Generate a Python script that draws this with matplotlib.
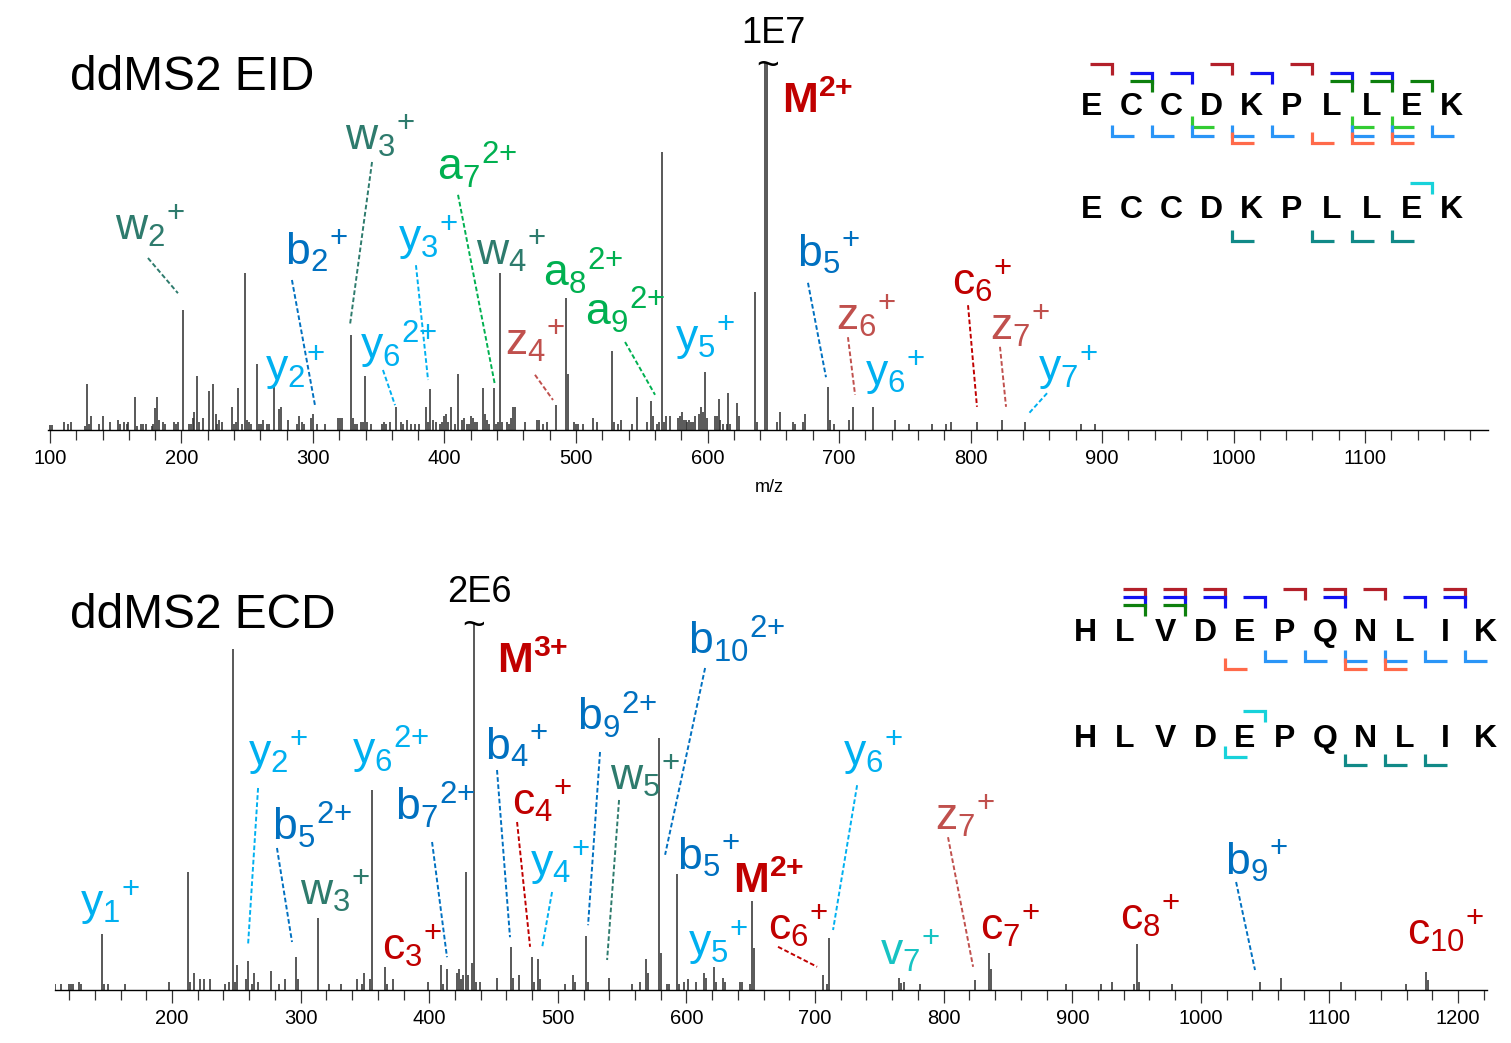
import numpy as np
import matplotlib
matplotlib.use('Agg')
import matplotlib.pyplot as plt

plt.rcParams['font.family'] = 'Liberation Sans'
plt.rcParams['mathtext.fontset'] = 'custom'
plt.rcParams['mathtext.rm'] = 'Liberation Sans'
plt.rcParams['mathtext.it'] = 'Liberation Sans:italic'
plt.rcParams['mathtext.bf'] = 'Liberation Sans:bold'

# ---------------- data ----------------
# EID spectrum (m/z, relative intensity)
eid_mz = [100.0, 101.8, 110.6, 113.9, 115.7, 126.4, 127.9, 129.4, 130.9, 137.5, 140.6, 145.6,
          151.5, 153.2, 156.5, 158.3, 159.6, 164.4, 165.9, 169.0, 171.0, 173.0, 177.3, 178.6,
          179.8, 181.4, 182.9, 186.2, 187.7, 194.3, 195.8, 197.3, 200.9, 205.4, 207.0, 208.5,
          209.7, 211.5, 213.0, 216.3, 221.1, 224.2, 226.0, 227.2, 228.7, 230.5, 238.4, 240.2,
          241.7, 243.2, 246.2, 248.0, 249.6, 251.3, 252.9, 257.4, 258.9, 260.5, 262.2, 265.3,
          266.8, 270.1, 274.4, 275.9, 281.0, 287.6, 289.1, 291.9, 293.4, 298.5, 300.2, 302.8,
          309.4, 319.0, 320.5, 322.1, 328.7, 330.2, 331.7, 333.2, 336.3, 337.8, 339.5, 341.1,
          344.1, 352.2, 353.8, 355.3, 358.3, 363.1, 366.9, 368.7, 371.3, 374.3, 377.6, 380.6,
          385.7, 387.2, 388.7, 391.5, 393.5, 396.6, 398.1, 399.6, 401.1, 402.9, 404.7, 408.0,
          410.5, 413.5, 415.1, 416.9, 418.6, 419.9, 421.4, 423.2, 424.5, 429.5, 431.0, 432.6,
          434.1, 437.4, 438.9, 440.5, 442.0, 443.5, 447.3, 448.8, 450.3, 451.9, 453.6, 461.2,
          470.1, 472.1, 475.1, 478.2, 484.8, 492.6, 494.1, 498.5, 500.0, 501.7, 505.5, 513.2,
          516.0, 527.4, 528.9, 531.9, 534.5, 542.6, 546.6, 554.2, 557.3, 558.8, 561.8, 563.3,
          565.1, 566.7, 568.2, 571.5, 577.8, 579.1, 580.6, 582.1, 583.7, 584.7, 586.2, 587.7,
          589.2, 590.7, 593.8, 595.3, 596.8, 598.3, 599.8, 605.7, 607.0, 608.5, 609.5, 612.0,
          614.6, 615.6, 617.1, 622.2, 623.7, 636.1, 637.9, 643.9, 645.5, 652.6, 655.1, 664.8,
          666.3, 672.9, 674.4, 691.4, 693.2, 696.0, 707.4, 710.4, 726.1, 742.3, 752.9, 770.4,
          781.4, 784.9, 804.9, 824.2, 841.7, 884.0, 895.0]
eid_int = [1.2, 1.2, 2.0, 1.6, 2.0, 1.0, 11.4, 1.4, 3.6, 1.6, 3.6, 2.0,
           2.5, 1.6, 2.0, 1.6, 2.0, 8.2, 1.0, 1.4, 1.4, 1.4, 1.0, 1.4,
           5.6, 8.2, 2.5, 2.0, 1.6, 2.0, 1.6, 2.0, 29.9, 1.4, 1.4, 3.1,
           4.5, 13.4, 2.0, 3.1, 9.8, 11.4, 4.1, 1.6, 2.5, 2.0, 5.8, 1.4,
           2.0, 10.4, 1.4, 39.3, 2.5, 2.0, 1.4, 16.4, 1.4, 1.6, 2.5, 1.4,
           1.4, 10.8, 5.2, 5.8, 2.5, 1.4, 3.6, 2.0, 1.6, 3.1, 4.1, 1.4,
           1.4, 3.1, 3.1, 3.1, 23.8, 3.1, 1.4, 1.4, 2.0, 2.0, 13.4, 2.0,
           1.4, 1.6, 2.0, 1.6, 2.0, 5.8, 2.0, 1.4, 2.5, 1.4, 1.4, 1.4,
           5.8, 2.0, 10.2, 2.5, 2.0, 1.6, 2.0, 3.6, 4.1, 2.0, 5.8, 1.4,
           13.9, 2.5, 3.1, 1.4, 1.6, 3.6, 3.1, 2.0, 2.0, 10.4, 4.1, 2.5,
           1.6, 10.4, 1.4, 2.0, 39.3, 2.0, 2.0, 1.6, 3.1, 5.8, 5.8, 2.0,
           2.5, 2.5, 1.4, 2.0, 6.2, 33.1, 13.9, 2.0, 1.6, 1.4, 1.4, 3.1,
           2.0, 19.8, 2.0, 1.4, 2.5, 1.4, 8.3, 2.0, 7.2, 3.6, 1.4, 2.0,
           69.5, 2.0, 3.6, 3.6, 3.1, 3.6, 4.5, 2.5, 2.5, 2.0, 2.5, 2.0,
           2.0, 3.6, 4.1, 5.8, 4.5, 14.5, 3.1, 3.6, 3.6, 7.7, 2.5, 1.4,
           1.4, 9.3, 1.6, 6.7, 3.6, 34.6, 2.0, 92.0, 92.0, 2.0, 4.5, 2.0,
           1.4, 2.0, 4.1, 10.8, 2.5, 1.6, 2.5, 5.8, 5.8, 2.5, 1.6, 1.6,
           1.6, 2.0, 2.0, 2.5, 2.0, 1.6, 1.6]

# ECD spectrum (m/z, relative intensity)
ecd_mz = [108.8, 113.5, 120.1, 121.7, 123.2, 127.9, 129.5, 145.8, 147.4, 150.4, 163.7, 197.4,
          212.2, 213.8, 216.9, 221.8, 224.9, 229.8, 241.2, 244.3, 247.7, 249.2, 250.8, 257.3,
          258.9, 262.2, 263.8, 266.9, 276.7, 283.2, 288.1, 296.2, 297.7, 313.8, 321.8, 331.4,
          344.1, 347.5, 349.1, 354.0, 355.8, 365.4, 367.0, 371.9, 399.3, 408.9, 410.5, 413.6,
          421.9, 423.4, 425.0, 426.5, 428.4, 429.9, 433.0, 434.6, 436.2, 439.5, 452.5, 463.8,
          465.4, 470.0, 479.9, 481.5, 484.6, 486.2, 505.8, 512.1, 513.6, 521.9, 523.5, 539.8,
          557.5, 563.9, 568.8, 570.4, 578.4, 580.0, 584.7, 586.2, 592.9, 594.5, 597.9, 601.0,
          607.5, 613.7, 615.2, 621.7, 623.3, 628.2, 629.8, 641.4, 643.0, 649.5, 650.8, 652.6,
          706.0, 709.1, 710.9, 765.5, 766.9, 769.0, 781.9, 824.0, 835.2, 836.9, 895.1, 922.6,
          930.7, 948.4, 950.2, 951.6, 977.7, 1045.6, 1062.0, 1108.7, 1159.2, 1174.9, 1176.7]
ecd_int = [1.4, 1.4, 1.4, 1.4, 1.4, 2.0, 1.4, 13.9, 1.4, 1.4, 1.4, 2.0,
           29.5, 2.0, 4.2, 2.7, 2.7, 2.7, 1.4, 2.0, 85.2, 2.0, 6.2, 2.7,
           7.2, 1.4, 4.2, 2.0, 4.8, 1.4, 2.7, 8.2, 2.7, 18.1, 1.4, 1.4,
           2.7, 1.4, 4.2, 2.7, 50.0, 5.8, 1.4, 2.7, 2.0, 6.2, 1.4, 5.2,
           4.2, 5.2, 2.7, 3.7, 29.6, 3.7, 6.8, 92.0, 2.0, 2.0, 3.1, 10.8,
           3.1, 3.7, 8.2, 2.0, 7.8, 2.7, 1.4, 3.7, 2.0, 13.4, 2.0, 3.1,
           1.4, 2.0, 7.8, 4.2, 63.0, 9.3, 1.4, 1.4, 28.9, 1.4, 2.0, 2.7,
           2.0, 4.2, 3.1, 5.8, 2.0, 3.1, 2.0, 2.0, 2.0, 1.4, 22.2, 10.4,
           3.7, 1.4, 12.9, 3.1, 1.8, 2.0, 1.4, 2.5, 9.3, 5.2, 1.4, 1.4,
           2.0, 1.4, 11.4, 2.0, 1.4, 2.0, 3.1, 2.0, 1.4, 4.6, 2.5]

# peptide sequences and observed cleavage sites (after residue n)
seq_eid = 'ECCDKPLLEK'
seq_ecd = 'HLVDEPQNLIK'
eid_c = [1, 4, 6]
eid_b = [2, 3, 5, 7, 8]
eid_a = [2, 7, 8, 9]
eid_x = [3, 7, 8]
eid_y = [1, 2, 3, 4, 5, 7, 8, 9]
eid_z = [4, 6, 7, 8]
eid_v_n = [9]
eid_w = [4, 6, 7, 8]
ecd_c = [2, 3, 4, 6, 7, 8, 10]
ecd_b = [2, 3, 4, 5, 7, 9, 10]
ecd_a = [2, 3]
ecd_y = [5, 6, 7, 8, 9, 10]
ecd_z = [4, 7, 8]
ecd_v_n = [5]
ecd_v_c = [4]
ecd_w = [7, 8, 9]

col = {'w': '#2E7B6D', 'a': '#00B050', 'b': '#0070C0', 'y': '#00B0F0',
       'z': '#C0504D', 'c': '#C00000', 'v': '#17C3C3'}


def ion(s, n, q):
    q = q.replace('+', '{+}')
    return r'$\mathregular{%s_{%s}{}^{%s}}$' % (s, n, q)


# labels: (ion, number, charge, x, y, leader)
eid_labels = [
    ('w', '2', '+', 149.4, 47.5, ((174.5, 197.3), (43.0, 34.2))),
    ('w', '3', '+', 324.3, 70.0, ((344.9, 328.1), (67.0, 26.2))),
    ('a', '7', '2+', 394.3, 62.5, ((410.3, 438.4), (58.8, 11.2))),
    ('b', '2', '+', 278.7, 41.2, ((284.0, 301.5), (37.5, 6.2))),
    ('y', '3', '+', 364.6, 45.0, ((378.3, 387.5), (41.2, 12.5))),
    ('w', '4', '+', 424.0, 41.2, None),
    ('a', '8', '2+', 474.9, 35.8, None),
    ('a', '9', '2+', 506.8, 26.2, ((537.3, 560.1), (22.0, 8.8))),
    ('z', '4', '+', 446.0, 18.8, ((468.8, 482.5), (13.8, 7.5))),
    ('y', '2', '+', 263.5, 12.5, None),
    ('y', '6', '2+', 335.7, 17.5, ((353.2, 362.4), (15.0, 6.2))),
    ('y', '5', '+', 575.3, 20.0, None),
    ('b', '5', '+', 668.1, 40.8, ((676.4, 690.1), (36.8, 13.2))),
    ('z', '6', '+', 697.7, 25.0, ((706.8, 712.2), (23.2, 8.8))),
    ('y', '6', '+', 719.8, 11.2, None),
    ('c', '6', '+', 785.9, 33.8, ((798.1, 804.9), (31.2, 5.8))),
    ('z', '7', '+', 814.8, 22.5, ((822.4, 827.0), (20.8, 5.8))),
    ('y', '7', '+', 851.3, 12.5, ((858.2, 844.5), (9.2, 4.2))),
]
ecd_labels = [
    ('y', '1', '+', 128.5, 18.8, None),
    ('y', '2', '+', 259.1, 56.2, ((266.9, 259.1), (50.5, 11.2))),
    ('b', '5', '2+', 277.8, 37.5, ((281.6, 293.3), (35.5, 12.0))),
    ('w', '3', '+', 299.5, 21.2, None),
    ('y', '6', '2+', 340.0, 56.2, None),
    ('b', '7', '2+', 373.4, 42.5, ((402.2, 413.8), (37.0, 8.2))),
    ('c', '3', '+', 363.3, 7.5, None),
    ('b', '4', '+', 443.4, 57.5, ((452.7, 462.8), (55.0, 13.2))),
    ('c', '4', '+', 464.4, 43.8, ((468.3, 478.4), (42.0, 10.8))),
    ('y', '4', '+', 478.4, 28.8, ((495.5, 487.7), (24.5, 10.5))),
    ('b', '9', '2+', 514.9, 65.0, ((532.8, 523.5), (59.5, 16.2))),
    ('w', '5', '+', 540.6, 50.0, ((547.6, 538.3), (47.5, 7.5))),
    ('b', '10', '2+', 601.2, 83.8, ((614.5, 583.4), (80.5, 33.8))),
    ('b', '5', '+', 592.7, 30.0, None),
    ('c', '6', '+', 663.5, 12.5, ((671.2, 701.6), (10.8, 5.8))),
    ('y', '5', '+', 601.2, 8.8, None),
    ('y', '6', '+', 721.8, 56.2, ((732.7, 714.0), (51.2, 15.0))),
    ('z', '7', '+', 793.3, 40.0, ((803.4, 822.9), (38.2, 5.8))),
    ('v', '7', '+', 750.5, 6.2, None),
    ('c', '7', '+', 828.3, 12.5, None),
    ('c', '8', '+', 937.2, 15.0, None),
    ('b', '9', '+', 1018.8, 28.8, ((1027.4, 1042.1), (27.0, 5.0))),
    ('c', '10', '+', 1160.3, 11.2, None),
]

# ---------------- figure ----------------
W, H = 1511, 1043
fig = plt.figure(figsize=(W / 100, H / 100), dpi=100)


def px_axes(left, right, bottom, top):
    return fig.add_axes([left / W, 1 - bottom / H, (right - left) / W, (bottom - top) / H])


def spectrum(ax, mz, inten, xlim, majors, minors):
    ax.vlines(mz, 0, inten, color='#333333', lw=1.15)
    ax.set_xlim(*xlim)
    ax.set_ylim(0, 100)
    for s in ['top', 'right', 'left']:
        ax.spines[s].set_visible(False)
    ax.spines['bottom'].set_linewidth(1.0)
    ax.set_yticks([])
    ax.set_xticks(majors)
    ax.set_xticks(minors, minor=True)
    ax.tick_params(axis='x', which='major', length=9.5, width=0.9, labelsize=14.5,
                   pad=4, color='#333333')
    ax.tick_params(axis='x', which='minor', length=7, width=0.9, color='#333333')
    ax.patch.set_alpha(0)


def put_labels(ax, labels):
    for s, n, q, x, y, lead in labels:
        c = col[s]
        ax.text(x, y, ion(s, n, q), color=c, fontsize=32, ha='left', va='baseline',
                clip_on=False)
        if lead is not None:
            ax.plot(lead[0], lead[1], color=c, lw=1.4, ls=(0, (2.4, 1.3)), clip_on=False)


def parent(ax, x, y, q):
    ax.text(x, y, r'$\mathbf{M^{%s}}$' % q.replace('+', '{+}'), color=col['c'],
            fontsize=31, ha='left', va='baseline', clip_on=False)


ax1 = px_axes(48, 1488, 430, 30)
spectrum(ax1, eid_mz, eid_int, (98.5, 1193.5), np.arange(100, 1101, 100), np.arange(100, 1193, 20))
put_labels(ax1, eid_labels)
ax1.text(646, 90.8, '~', ha='center', va='center', fontsize=28, clip_on=False)
ax1.text(649.8, 96.8, '1E7', ha='center', va='baseline', fontsize=26, clip_on=False)
parent(ax1, 656.7, 79.2, '2+')

ax2 = px_axes(55, 1487, 990, 590)
spectrum(ax2, ecd_mz, ecd_int, (109, 1222.5), np.arange(200, 1201, 100), np.arange(120, 1222, 20))
put_labels(ax2, ecd_labels)
ax2.text(434.6, 90.8, '~', ha='center', va='center', fontsize=28, clip_on=False)
ax2.text(438.7, 97.0, '2E6', ha='center', va='baseline', fontsize=26, clip_on=False)
parent(ax2, 452.7, 79.2, '3+')
parent(ax2, 636.2, 24.2, '2+')

fig.text(769 / W, 1 - 488 / H, 'm/z', ha='center', va='center', fontsize=13)

# overlay in pixel units for titles and sequence maps
ov = fig.add_axes([0, 0, 1, 1])
ov.set_xlim(0, W)
ov.set_ylim(H, 0)
ov.axis('off')
ov.patch.set_alpha(0)

ov.text(70, 90, 'ddMS2 EID', fontsize=34.5, ha='left', va='baseline')
ov.text(70, 628, 'ddMS2 ECD', fontsize=34.5, ha='left', va='baseline')


def seq_map(seq, x0, base, nterm, cterm):
    xs = x0 + 40 * np.arange(len(seq))
    for x, ch in zip(xs, seq):
        ov.text(x, base, ch, ha='center', va='baseline', fontsize=23, fontweight='bold')
    kw = dict(lw=2.3, solid_joinstyle='miter', solid_capstyle='butt')
    for color, dy, sites in nterm:
        for i in sites:
            xb = (xs[i - 1] + xs[i]) / 2
            y = base + dy
            ov.plot([xs[i - 1] - 2, xb, xb], [y, y, y + 11], color=color, **kw)
    for color, dy, sites in cterm:
        for i in sites:
            xb = (xs[i - 1] + xs[i]) / 2
            y = base + dy
            ov.plot([xb, xb, xs[i] + 2], [y - 11, y, y], color=color, **kw)


red, blue, green = '#B3202A', '#1212F0', '#0E800E'
lblue, salmon, lgreen = '#2A95F7', '#FF6A4A', '#33CC33'
cyan, teal = '#18D2DA', '#118A88'

seq_map(seq_eid, 1091.7, 115,
        [(red, -51, eid_c), (blue, -42.3, eid_b), (green, -34, eid_a)],
        [(lgreen, 12.3, eid_x), (lblue, 21, eid_y), (salmon, 28.3, eid_z)])
seq_map(seq_eid, 1091.7, 218, [(cyan, -34.7, eid_v_n)], [(teal, 22.7, eid_w)])
seq_map(seq_ecd, 1085, 640.7,
        [(red, -51.4, ecd_c), (blue, -43.4, ecd_b), (green, -35.7, ecd_a)],
        [(lblue, 20.3, ecd_y), (salmon, 28.6, ecd_z)])
seq_map(seq_ecd, 1085, 746.7, [(cyan, -36, ecd_v_n)], [(cyan, 10.6, ecd_v_c), (teal, 18.3, ecd_w)])

fig.savefig('out.png', dpi=100)
